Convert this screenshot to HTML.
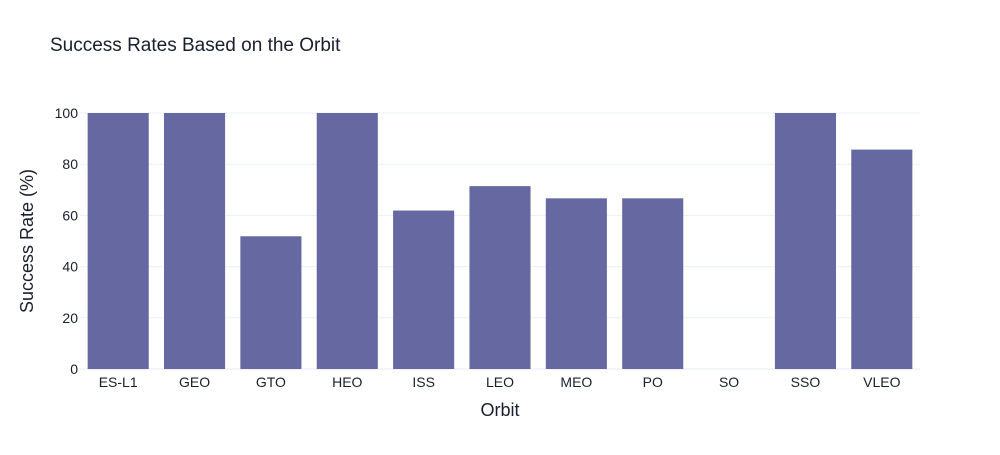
<!DOCTYPE html>
<html><head><meta charset="utf-8"><style>
body{margin:0;background:#fff;font-family:"Liberation Sans",Arial,sans-serif}
svg text{font-family:"Liberation Sans",Arial,sans-serif}
</style></head><body>
<svg id="c" width="1000" height="450">
<text x="50" y="51" font-size="19" fill="#1a1f2e">Success Rates Based on the Orbit</text>
<g id="grid"></g><g id="bars"></g><g id="xt"></g><g id="yt"></g>
<text x="500" y="416" font-size="18" fill="#1a1f2e" text-anchor="middle">Orbit</text>
<text transform="translate(33,241) rotate(-90)" font-size="18" fill="#1a1f2e" text-anchor="middle">Success Rate (%)</text>
</svg>
<script>
const categories=["ES-L1","GEO","GTO","HEO","ISS","LEO","MEO","PO","SO","SSO","VLEO"];
const values=[100,100,51.85,100,61.9,71.43,66.67,66.67,0,100,85.71];
const yTicks=[0,20,40,60,80,100];
const ns="http://www.w3.org/2000/svg";
const L=80,R=920,T=113,B=369;
const band=(R-L)/categories.length;
const xs=i=>L+band*i;
const ys=v=>B-(v/100)*(B-T);
function mk(t,a,p){const e=document.createElementNS(ns,t);for(const k in a)e.setAttribute(k,a[k]);document.getElementById(p).appendChild(e);return e;}
yTicks.forEach(v=>{
 const g=mk("line",{x1:L,x2:R,y1:ys(v),y2:ys(v),stroke:v===0?"#e3e8f2":"#ebf0f8","stroke-width":1},"grid");
 
 
 const t=mk("text",{x:L-2,y:ys(v)+5,"font-size":14,fill:"#1a1f2e","text-anchor":"end"},"yt");
 t.textContent=v;
 
 
});
categories.forEach((c,i)=>{
 const w=band*0.8;
 const b=mk("rect",{x:xs(i)+band*0.1,y:ys(values[i]),width:w,height:B-ys(values[i]),fill:"#6668a1"},"bars");
 
 
 const t=mk("text",{x:xs(i)+band/2,y:387,"font-size":14,fill:"#1a1f2e","text-anchor":"middle"},"xt");
 t.textContent=c;
 
 
});
</script>
</body></html>
